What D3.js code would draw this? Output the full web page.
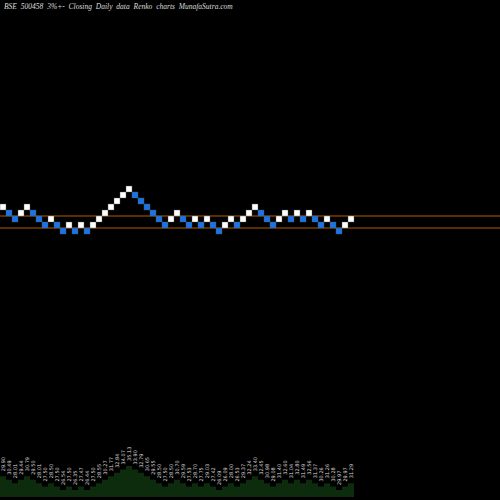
<!DOCTYPE html><html><head><meta charset="utf-8"><script src="https://cdn.jsdelivr.net/npm/d3@7"></script>
<style>body{margin:0;background:#000}</style></head><body><svg id="c" width="500" height="500"></svg>
<script>
const levels=[4,3,2,3,4,3,2,1,2,1,0,1,0,1,0,1,2,3,4,5,6,7,6,5,4,3,2,1,2,3,2,1,2,1,2,1,0,1,2,1,2,3,4,3,2,1,2,3,2,3,2,3,2,1,2,1,0,1,2];
const labels=["29.90","30.49","28.01","29.44","30.79","29.50","28.01","27.50","28.50","27.50","26.54","27.50","26.35","27.47","26.44","27.50","28.55","30.27","31.77","32.84","34.07","35.13","33.90","32.79","30.65","29.55","28.50","27.50","28.50","30.70","29.59","27.53","28.70","27.75","29.03","27.42","26.09","26.09","28.00","26.53","29.37","32.24","33.40","32.45","30.98","29.08","31.40","32.60","31.04","32.80","31.49","32.56","31.37","30.26","31.26","30.28","29.97","29.97","31.29"];
const refLevels=[2,0];
const svg=d3.select("#c");
svg.append("rect").attr("width",500).attr("height",500).attr("fill","#000");
svg.append("text").attr("x",4).attr("y",9).attr("fill","#ddd").attr("font-family","Liberation Serif").attr("font-style","italic").attr("font-size",7.5).attr("word-spacing",2).text("BSE 500458  3%+-  Closing Daily data  Renko  charts MunafaSutra.com");
const x=d3.scaleLinear().domain([0,1]).range([0,6]);
const y=d3.scaleLinear().domain([0,7]).range([228,186]);
const va=d3.scaleLinear().domain([0,7]).range([490,466]);
refLevels.forEach(l=>svg.append("line").attr("x1",0).attr("x2",500).attr("y1",y(l)).attr("y2",y(l)).attr("stroke","#b35a00").attr("stroke-width",1));
levels.forEach((l,i)=>{const up=i==0?true:l>levels[i-1];
svg.append("rect").attr("x",x(i)).attr("y",y(l)).attr("width",6).attr("height",6).attr("fill",up?"#ffffff":"#1a73e8").attr("stroke","#555").attr("stroke-width",0.4);});
const pts=[];levels.forEach((l,i)=>{pts.push([x(i),va(l)]);pts.push([x(i+1),va(l)]);});
svg.append("path").attr("d",d3.area().x(d=>d[0]).y0(497).y1(d=>d[1])(pts)).attr("fill","#0d2c0d");
labels.forEach((t,i)=>{const xx=x(i)+4.5,yy=va(levels[i])-5;
svg.append("text").attr("transform",`translate(${xx},${yy}) rotate(-90)`).attr("fill","#ddd").attr("font-family","DejaVu Sans").attr("font-size",5).text(t);});
</script></body></html>
